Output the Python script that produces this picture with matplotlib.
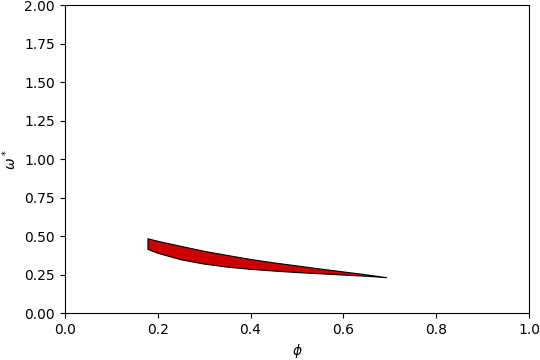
import matplotlib
matplotlib.use("Agg")
import matplotlib.pyplot as plt

# stability region boundaries
phi = [0.178, 0.20, 0.25, 0.30, 0.35, 0.40, 0.45, 0.50, 0.55, 0.60, 0.65, 0.692]
omega_upper = [0.487, 0.470, 0.437, 0.405, 0.378, 0.352, 0.330, 0.310, 0.290, 0.271, 0.252, 0.234]
omega_lower = [0.418, 0.392, 0.350, 0.322, 0.302, 0.288, 0.277, 0.267, 0.259, 0.251, 0.243, 0.234]

fig = plt.figure(figsize=(5.4, 3.6), dpi=100)
ax = fig.add_subplot(111)
ax.fill_between(phi, omega_lower, omega_upper, facecolor="#cc0000", edgecolor="black", linewidth=0.8)
ax.set_xlim(0, 1)
ax.set_ylim(0, 2)
ax.set_xlabel(r"$\phi$")
ax.set_ylabel(r"$\omega^*$")
fig.subplots_adjust(left=0.12, right=0.98, bottom=0.13, top=0.985)
fig.savefig("out.png")
